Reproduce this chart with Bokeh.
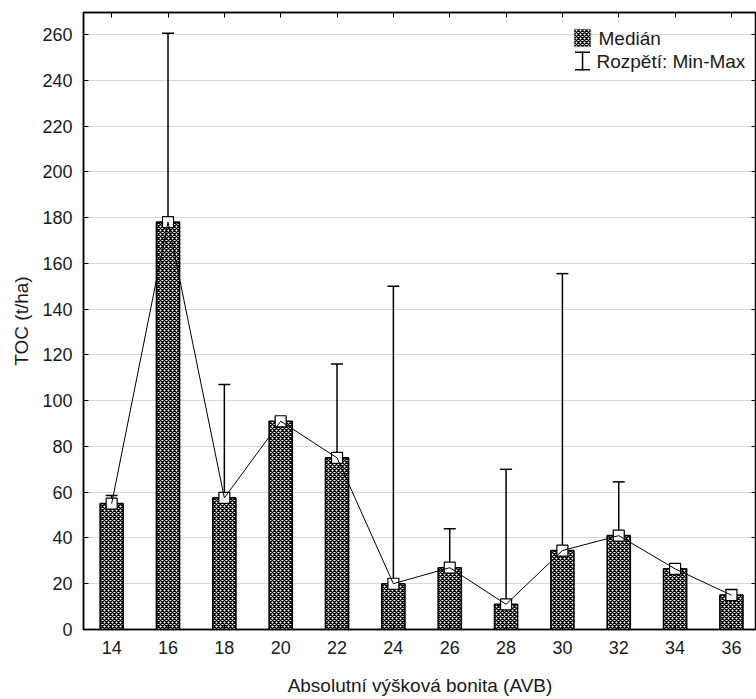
from bokeh.plotting import figure
from bokeh.models import (Range1d, FixedTicker, LinearAxis, Whisker, TeeHead,
                          ColumnDataSource, BoxAnnotation, Label)
from bokeh.embed import file_html
from bokeh.resources import INLINE

# ---- data ----
avb = [14, 16, 18, 20, 22, 24, 26, 28, 30, 32, 34, 36]
median = [55, 178, 57.5, 91, 75, 20, 27, 11, 34.5, 41, 26.5, 15]
vmin = [52, 95, 7.5, 89, 33.5, 11.5, 10.5, 3.5, 14, 18, 25, 10.5]
vmax = [58.5, 260.5, 107, 92.5, 116, 150, 44, 70, 155.5, 64.5, 27.5, 17.5]
y_ticks = list(range(0, 261, 20))

x_title = "Absolutní výšková bonita (AVB)"
y_title = "TOC (t/ha)"
legend_labels = ["Medián", "Rozpětí: Min-Max"]

FONT = "Liberation Sans"
W, H = 756, 699
FL, FT, FB = 83, 12, 629  # frame left/top/bottom in canvas px

src = ColumnDataSource(dict(x=avb, med=median, lo=vmin, hi=vmax))

p = figure(width=W, height=H, output_backend="svg", toolbar_location=None,
           x_range=Range1d(13.0, 36.89), y_range=Range1d(0, 269.6),
           min_border_left=FL, min_border_right=0, min_border_top=FT,
           min_border_bottom=H - FB)
p.background_fill_color = "white"
p.border_fill_color = "white"
p.outline_line_color = "black"
p.outline_line_width = 1.5

# grid
p.xgrid.visible = False
p.ygrid.ticker = FixedTicker(ticks=y_ticks)
p.ygrid.grid_line_color = "#d8d8d8"
p.ygrid.grid_line_width = 1

# axes
for ax in (p.xaxis[0], p.yaxis[0]):
    ax.axis_line_color = "black"
    ax.axis_line_width = 1.5
    ax.major_tick_in = 5
    ax.major_tick_out = 0
    ax.minor_tick_line_color = None
    ax.major_label_text_font = FONT
    ax.major_label_text_font_size = "18px"
    ax.major_label_text_color = "#1a1a1a"
    ax.axis_label_text_font = FONT
    ax.axis_label_text_font_size = "19px"
    ax.axis_label_text_font_style = "normal"
    ax.axis_label_text_color = "#1a1a1a"
p.xaxis[0].ticker = FixedTicker(ticks=avb)
p.yaxis[0].ticker = FixedTicker(ticks=y_ticks)
p.xaxis[0].major_label_standoff = 11
p.yaxis[0].major_label_standoff = 11
p.xaxis[0].axis_label = x_title
p.yaxis[0].axis_label = y_title
p.xaxis[0].axis_label_standoff = 18
p.yaxis[0].axis_label_standoff = 7


def frame_axis(ticks):
    return LinearAxis(ticker=FixedTicker(ticks=ticks), major_label_text_font_size="1px",
                      major_label_text_color=None, major_label_standoff=0,
                      major_tick_in=5, major_tick_out=0,
                      minor_tick_line_color=None, axis_line_color="black",
                      axis_line_width=1.5)


p.add_layout(frame_axis(avb), "above")
p.add_layout(frame_axis(y_ticks), "right")

# bars (median), checkered fill
HATCH = dict(hatch_pattern="diagonal_cross", hatch_color="black",
             hatch_scale=4, hatch_weight=1.4)
p.vbar(x="x", top="med", bottom=0, width=0.82, source=src,
       fill_color="white", line_color="black", line_width=1.6, **HATCH)

# median markers and connecting line
p.scatter(x="x", y="med", source=src, marker="square", size=11,
          fill_color="white", line_color="black", line_width=1.2)
p.line(x="x", y="med", source=src, line_color="black", line_width=1)

# min-max whiskers
wh = Whisker(base="x", lower="lo", upper="hi", source=src, dimension="height",
             line_color="black", line_width=1.5,
             upper_head=TeeHead(size=12, line_color="black", line_width=1.5),
             lower_head=TeeHead(size=12, line_color="black", line_width=1.5))
p.add_layout(wh)


# legend, in screen units relative to the frame
def sx(X):
    return X - FL


def sy(Y):
    return FB - Y


p.add_layout(BoxAnnotation(left=sx(574), right=sx(590), top=sy(29), bottom=sy(46),
                           left_units="screen", right_units="screen",
                           top_units="screen", bottom_units="screen",
                           fill_color="white", fill_alpha=1, line_color="black",
                           line_width=1.5, **HATCH))
for l, r, t, b in [(581.3, 582.8, 51, 70), (574.5, 589.5, 51, 52.5), (574.5, 589.5, 68.5, 70)]:
    p.add_layout(BoxAnnotation(left=sx(l), right=sx(r), top=sy(t), bottom=sy(b),
                               left_units="screen", right_units="screen",
                               top_units="screen", bottom_units="screen",
                               fill_color="black", fill_alpha=1, line_color=None))
for text, X, Y in zip(legend_labels, [598, 596], [38, 61]):
    p.add_layout(Label(x=sx(X), y=sy(Y), x_units="screen", y_units="screen", text=text,
                       text_font=FONT, text_font_size="19px", text_color="#1a1a1a",
                       text_baseline="middle", text_align="left"))

open("out.html", "w").write(file_html(p, INLINE))
